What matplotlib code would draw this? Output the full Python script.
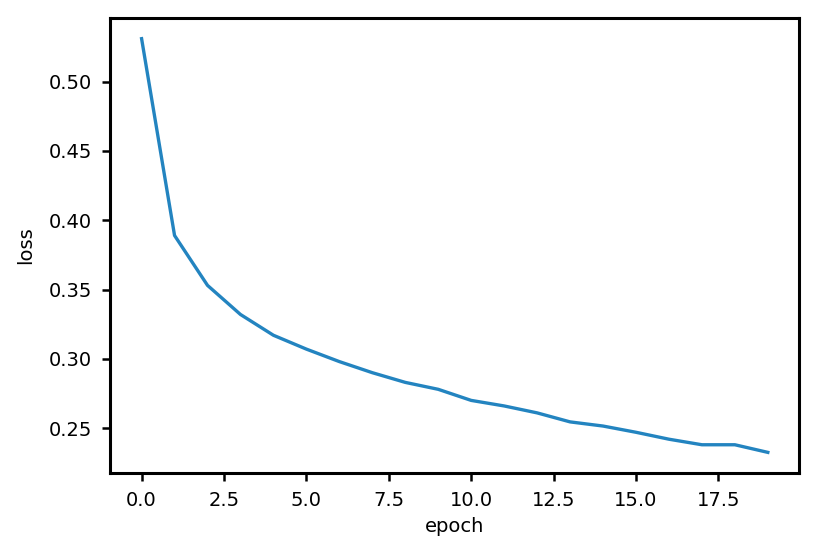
import matplotlib
matplotlib.use("Agg")
import matplotlib.pyplot as plt

epochs = list(range(20))
loss = [0.531, 0.389, 0.353, 0.332, 0.317, 0.307, 0.298, 0.290, 0.283, 0.278,
        0.270, 0.266, 0.261, 0.2545, 0.2515, 0.247, 0.242, 0.238, 0.238, 0.2325]
xticks = [0, 2.5, 5, 7.5, 10, 12.5, 15, 17.5]
yticks = [0.25, 0.30, 0.35, 0.40, 0.45, 0.50]

fig, ax = plt.subplots(figsize=(8.23, 5.45), dpi=100)
ax.plot(epochs, loss, color="#2384c0", lw=2.4)
ax.set_xlabel("epoch", fontsize=14, labelpad=5)
ax.set_ylabel("loss", fontsize=14, labelpad=10)
ax.set_xticks(xticks)
ax.set_yticks(yticks)
ax.tick_params(labelsize=14, width=1.8, length=6, pad=7)
for s in ax.spines.values():
    s.set_linewidth(2.2)
fig.subplots_adjust(left=0.134, right=0.971, top=0.967, bottom=0.132)
fig.savefig("out.png", dpi=100)
